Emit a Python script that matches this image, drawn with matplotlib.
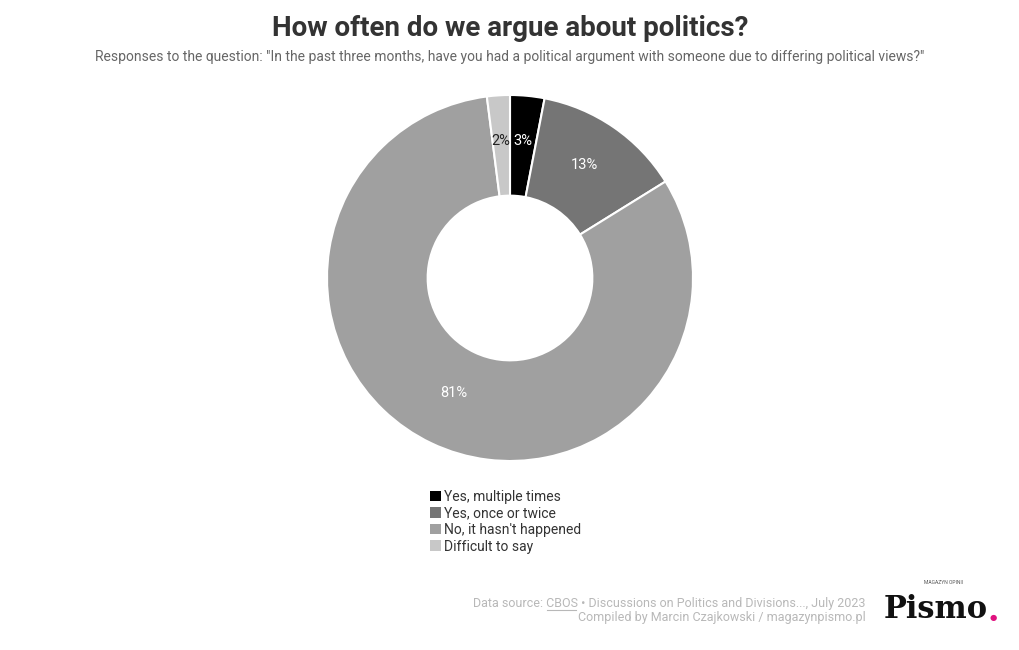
import matplotlib.pyplot as plt
import numpy as np

plt.rcParams['font.family'] = ['Roboto', 'DejaVu Sans']

categorias = ["Yes, multiple times", "Yes, once or twice", "No, it hasn't happened", "Difficult to say"]
valores = [3, 13, 81, 2]
rotulos = ["3%", "13%", "81%", "2%"]
cores = ["#000000", "#757575", "#a0a0a0", "#c8c8c8"]
cores_rotulo = ["white", "white", "white", "#222222"]

W, H = 1020, 650
fig = plt.figure(figsize=(W / 100, H / 100), dpi=100)

# donut: centro (510, 278), raio externo 183 px
cx, cy, r = 510, 278, 183
ax = fig.add_axes([(cx - r) / W, (H - cy - r) / H, 2 * r / W, 2 * r / H])
fatias, _ = ax.pie(valores, colors=cores, startangle=90, counterclock=False,
                   radius=1.0, wedgeprops=dict(width=0.55, edgecolor="white", linewidth=1.5))
ax.set_xlim(-1, 1)
ax.set_ylim(-1, 1)
ax.set_aspect("equal")
ax.axis("off")

# rotulos no meio do anel
total = sum(valores)
ang = 90.0
for i, v in enumerate(valores):
    meio = ang - 360.0 * v / total / 2
    ang -= 360.0 * v / total
    rr = 0.72
    x, y = rr * np.cos(np.radians(meio)), rr * np.sin(np.radians(meio)) + 0.022
    if rotulos[i] == "3%":
        x, y = 0.07, 0.75
    if rotulos[i] == "2%":
        x, y = -0.05, 0.75
    ax.text(x, y, rotulos[i], ha="center", va="center", fontsize=10.5, color=cores_rotulo[i])

fig.text(0.5, 1 - 29 / H, "How often do we argue about politics?", ha="center", va="center",
         fontsize=20, fontweight="bold", color="#333333")
fig.text(0.5, 1 - 57 / H,
         'Responses to the question: "In the past three months, have you had a political argument with someone due to differing political views?"',
         ha="center", va="center", fontsize=10, color="#666666")

leg = fig.legend(fatias, categorias, loc="upper left", bbox_to_anchor=(430 / W, 1 - 490 / H),
                 frameon=False, fontsize=10, handlelength=0.8, handleheight=0.8,
                 handletextpad=0.2, labelspacing=0.18, borderpad=0, borderaxespad=0)
for t in leg.get_texts():
    t.set_color("#333333")
for h in leg.legend_handles:
    h.set_edgecolor("none")

# rodape
cinza = "#b8b8b8"
xr = 866 / W
t1 = fig.text(xr, 1 - 603 / H, "Data source: CBOS • Discussions on Politics and Divisions..., July 2023",
              ha="right", va="center", fontsize=9, color=cinza)
fig.text(xr, 1 - 618 / H, "Compiled by Marcin Czajkowski / magazynpismo.pl",
         ha="right", va="center", fontsize=9, color=cinza)

rend = fig.canvas.get_renderer()
bb = t1.get_window_extent(rend)
tmp = fig.text(0, 0, "Data source: ", fontsize=9)
w0 = tmp.get_window_extent(rend).width
tmp.set_text("CBOS")
w1 = tmp.get_window_extent(rend).width
tmp.remove()
yl = (H - 610) / H
fig.add_artist(plt.Line2D([(bb.x0 + w0) / W, (bb.x0 + w0 + w1 - 2) / W], [yl, yl],
                          color=cinza, linewidth=0.8))

# logo
fig.text(884 / W, 1 - 609 / H, "Pismo", ha="left", va="center", fontsize=22,
         fontweight="bold", family="DejaVu Serif", color="#111111")
fig.text(993 / W, 1 - 618 / H, "●", ha="center", va="center", fontsize=6, color="#e0117f")
fig.text(944 / W, 1 - 583 / H, "MAGAZYN OPINII", ha="center", va="center", fontsize=3.6,
         color="#555555")

fig.savefig("out.png", dpi=100)
